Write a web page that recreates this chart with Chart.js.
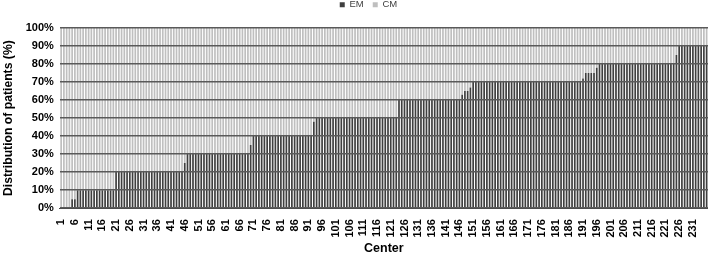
<!DOCTYPE html>
<html>
<head>
<meta charset="utf-8">
<script src="https://cdn.jsdelivr.net/npm/chart.js@4"></script>
<style>
  html, body { margin: 0; padding: 0; background: #fff; }
  #wrap { width: 708px; height: 255px; }
</style>
</head>
<body>
<div id="wrap"><canvas id="chart_centerDistribution" width="708" height="255"></canvas></div>
<script>
// centers 1..236
var centers = [];
for (var i = 1; i <= 236; i++) centers.push(String(i));

// EM share per center (%)
var emValues = [
  0, 0, 0, 0, 5, 5, 10, 10, 10, 10,
  10, 10, 10, 10, 10, 10, 10, 10, 10, 10,
  20, 20, 20, 20, 20, 20, 20, 20, 20, 20,
  20, 20, 20, 20, 20, 20, 20, 20, 20, 20,
  20, 20, 20, 20, 20, 25, 30, 30, 30, 30,
  30, 30, 30, 30, 30, 30, 30, 30, 30, 30,
  30, 30, 30, 30, 30, 30, 30, 30, 30, 35,
  40, 40, 40, 40, 40, 40, 40, 40, 40, 40,
  40, 40, 40, 40, 40, 40, 40, 40, 40, 40,
  40, 40, 48, 50, 50, 50, 50, 50, 50, 50,
  50, 50, 50, 50, 50, 50, 50, 50, 50, 50,
  50, 50, 50, 50, 50, 50, 50, 50, 50, 50,
  50, 50, 50, 60, 60, 60, 60, 60, 60, 60,
  60, 60, 60, 60, 60, 60, 60, 60, 60, 60,
  60, 60, 60, 60, 60, 60, 63, 65, 65, 67,
  70, 70, 70, 70, 70, 70, 70, 70, 70, 70,
  70, 70, 70, 70, 70, 70, 70, 70, 70, 70,
  70, 70, 70, 70, 70, 70, 70, 70, 70, 70,
  70, 70, 70, 70, 70, 70, 70, 70, 70, 70,
  72, 75, 75, 75, 75, 78, 80, 80, 80, 80,
  80, 80, 80, 80, 80, 80, 80, 80, 80, 80,
  80, 80, 80, 80, 80, 80, 80, 80, 80, 80,
  80, 80, 80, 80, 85, 90, 90, 90, 90, 90,
  90, 90, 90, 90, 90, 90
];

// CM share per center (%)
var cmValues = [
  100, 100, 100, 100, 95, 95, 90, 90, 90, 90,
  90, 90, 90, 90, 90, 90, 90, 90, 90, 90,
  80, 80, 80, 80, 80, 80, 80, 80, 80, 80,
  80, 80, 80, 80, 80, 80, 80, 80, 80, 80,
  80, 80, 80, 80, 80, 75, 70, 70, 70, 70,
  70, 70, 70, 70, 70, 70, 70, 70, 70, 70,
  70, 70, 70, 70, 70, 70, 70, 70, 70, 65,
  60, 60, 60, 60, 60, 60, 60, 60, 60, 60,
  60, 60, 60, 60, 60, 60, 60, 60, 60, 60,
  60, 60, 52, 50, 50, 50, 50, 50, 50, 50,
  50, 50, 50, 50, 50, 50, 50, 50, 50, 50,
  50, 50, 50, 50, 50, 50, 50, 50, 50, 50,
  50, 50, 50, 40, 40, 40, 40, 40, 40, 40,
  40, 40, 40, 40, 40, 40, 40, 40, 40, 40,
  40, 40, 40, 40, 40, 40, 37, 35, 35, 33,
  30, 30, 30, 30, 30, 30, 30, 30, 30, 30,
  30, 30, 30, 30, 30, 30, 30, 30, 30, 30,
  30, 30, 30, 30, 30, 30, 30, 30, 30, 30,
  30, 30, 30, 30, 30, 30, 30, 30, 30, 30,
  28, 25, 25, 25, 25, 22, 20, 20, 20, 20,
  20, 20, 20, 20, 20, 20, 20, 20, 20, 20,
  20, 20, 20, 20, 20, 20, 20, 20, 20, 20,
  20, 20, 20, 20, 15, 10, 10, 10, 10, 10,
  10, 10, 10, 10, 10, 10
];

var yTicks = [0, 10, 20, 30, 40, 50, 60, 70, 80, 90, 100];
var lastLabeledCenter = 231;

var fontFamily = "'Liberation Sans', Arial, sans-serif";

var chart_centerDistribution = new Chart(document.getElementById('chart_centerDistribution'), {
    type: 'bar',
    data: {
        labels: centers,
        datasets: [
            {
                label: 'EM',
                data: emValues,
                backgroundColor: '#3f3f3f',
                barPercentage: 0.62,
                categoryPercentage: 1.0
            },
            {
                label: 'CM',
                data: cmValues,
                backgroundColor: '#bfbfbf',
                barPercentage: 0.62,
                categoryPercentage: 1.0
            }
        ]
    },
    options: {
        animation: false,
        responsive: false,
        layout: {
            padding: { left: 1, right: 0, top: 0, bottom: 0 }
        },
        plugins: {
            legend: {
                display: true,
                position: 'top',
                labels: {
                    boxWidth: 5,
                    boxHeight: 5,
                    padding: 9,
                    color: '#404040',
                    font: { family: fontFamily, size: 9.5 }
                }
            },
            tooltip: { enabled: false }
        },
        scales: {
            x: {
                stacked: true,
                grid: { display: false },
                border: { display: true, color: '#404040', width: 1 },
                title: {
                    display: true,
                    text: 'Center',
                    color: '#000',
                    padding: { top: 2, bottom: 0 },
                    font: { family: fontFamily, size: 12.5, weight: 'bold', lineHeight: 1 }
                },
                afterFit: function (axis) {
                    axis.paddingRight = 0;
                },
                ticks: {
                    autoSkip: false,
                    minRotation: 90,
                    maxRotation: 90,
                    padding: 3,
                    color: '#000',
                    font: { family: fontFamily, size: 11, weight: 'bold' },
                    callback: function (value, index) {
                        var c = Number(centers[index]);
                        return (index % 5 === 0 && c <= lastLabeledCenter) ? centers[index] : '';
                    }
                }
            },
            y: {
                stacked: true,
                min: 0,
                max: 100,
                afterBuildTicks: function (axis) {
                    axis.ticks = yTicks.map(function (v) { return { value: v }; });
                },
                grid: {
                    color: '#5a5a5a',
                    lineWidth: 1.5,
                    drawTicks: false,
                    z: 1
                },
                border: { display: false },
                title: {
                    display: true,
                    text: 'Distribution of patients (%)',
                    color: '#000',
                    padding: { top: 0, bottom: 4 },
                    font: { family: fontFamily, size: 12.2, weight: 'bold' }
                },
                ticks: {
                    padding: 6,
                    color: '#000',
                    font: { family: fontFamily, size: 11, weight: 'bold' },
                    callback: function (value) { return value + '%'; }
                }
            }
        }
    },
    plugins: [{
        id: 'legendTweak',
        afterInit: function (chart) {
            var legend = chart.legend;
            if (!legend) return;
            var origFit = legend.fit;
            legend.fit = function () {
                origFit.call(this);
                this.height = 28;
            };
            var origDraw = legend.draw;
            legend.draw = function () {
                var ctx = this.ctx;
                ctx.save();
                ctx.translate(14, -9);
                origDraw.call(this);
                ctx.restore();
            };
        }
    }, {
        id: 'whiteBackground',
        beforeDraw: function (chart) {
            var ctx = chart.canvas.getContext('2d');
            ctx.save();
            ctx.globalCompositeOperation = 'destination-over';
            ctx.fillStyle = 'white';
            ctx.fillRect(0, 0, chart.canvas.width, chart.canvas.height);
            ctx.restore();
        }
    }]
});
</script>
</body>
</html>
